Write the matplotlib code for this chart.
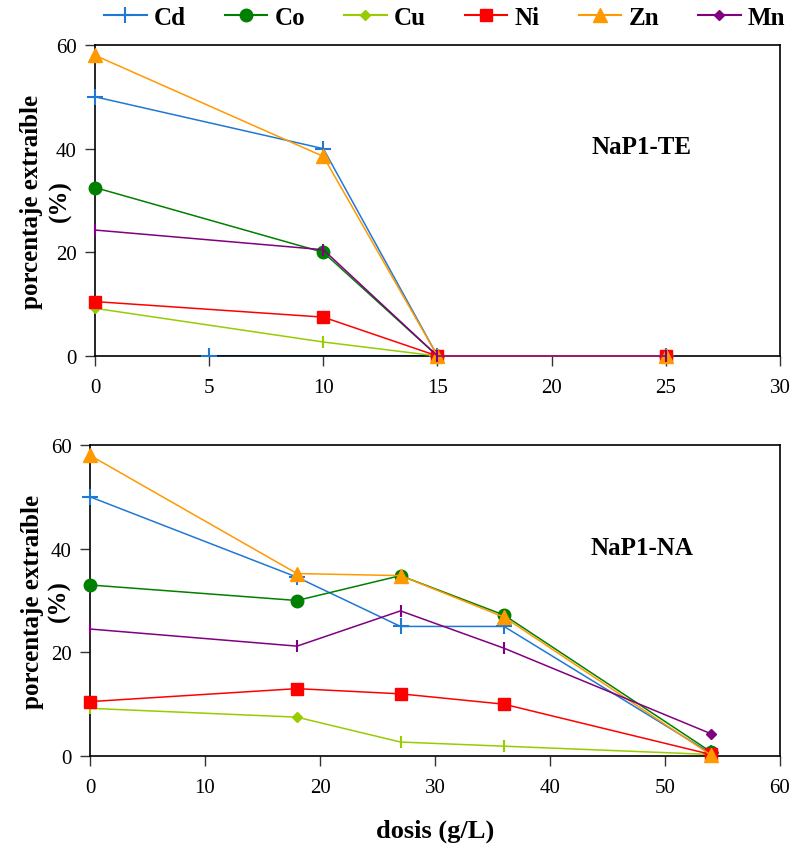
import matplotlib
matplotlib.use("Agg")
import matplotlib.pyplot as plt
from matplotlib.lines import Line2D

plt.rcParams['font.family'] = ['Liberation Serif', 'DejaVu Serif']

# ---------------------------------------------------------------
# data
# ---------------------------------------------------------------
metals = ["Cd", "Co", "Cu", "Ni", "Zn", "Mn"]

te_dose = [0, 10, 15, 25]
te_cd = [50, 40, 0, 0]
te_co = [32.5, 20, 0, 0]
te_cu = [9.2, 2.7, 0, 0]
te_ni = [10.5, 7.5, 0, 0]
te_zn = [58, 38.5, 0, 0]
te_mn = [24.3, 20.5, 0, 0]
te_extra_x = [5, 15]      # lone blue segment on the zero line
te_extra_y = [0, 0]

na_dose = [0, 18, 27, 36, 54]
na_cd = [50, 34.5, 25, 25, 0.5]
na_co = [33, 30, 34.8, 27.2, 0.8]
na_cu = [9.2, 7.5, 2.7, 1.9, 0.3]
na_ni = [10.5, 13, 12, 10, 0.3]
na_zn = [58, 35.2, 34.8, 26.8, 0.2]
na_mn = [24.5, 21.2, 28, 20.8, 4.3]

# ---------------------------------------------------------------
# styles
# ---------------------------------------------------------------
colors = {"Cd": "#1f78d4", "Co": "#008000", "Cu": "#99cc00",
          "Ni": "#ff0000", "Zn": "#ff9900", "Mn": "#800080"}
markers = {"Cd": "+", "Co": "o", "Cu": "D", "Ni": "s", "Zn": "^", "Mn": "D"}
msizes = {"Cd": 12, "Co": 9, "Cu": 5, "Ni": 8, "Zn": 10, "Mn": 5}


def draw_series(ax, x, y, name, main_idx=None):
    c = colors[name]
    if main_idx is None:
        main_idx = list(range(len(x)))
    ax.plot(x, y, color=c, lw=1.1, marker=markers[name], ms=msizes[name],
            mew=1.5 if name == "Cd" else 1, markevery=main_idx, clip_on=False, zorder=3)
    rest = [i for i in range(len(x)) if i not in main_idx]
    if rest:
        ax.plot([x[i] for i in rest], [y[i] for i in rest], ls="none", marker="|",
                ms=9, mew=1.5, color=c, clip_on=False, zorder=3)


def style_axes(ax, xmax, xstep, label, lab1_x, lab2_x):
    ax.set_xlim(0, xmax)
    ax.set_ylim(0, 60)
    ax.set_xticks(range(0, xmax + 1, xstep))
    ax.set_yticks([0, 20, 40, 60])
    ax.tick_params(direction="out", length=7, width=1, labelsize=15, pad=9,
                   color="#333333")
    ax.tick_params(axis="y", pad=6)
    for sp in ax.spines.values():
        sp.set_linewidth(1.2)
    # two-line y label, drawn as two texts so they sit tight to the ticks
    ax.text(lab1_x, 0.5, "porcentaje extraíble", transform=ax.transAxes,
            rotation=90, fontsize=18, fontweight="bold", ha="center", va="center")
    ax.text(lab2_x, 0.5, "(%)", transform=ax.transAxes,
            rotation=90, fontsize=18, fontweight="bold", ha="center", va="center")
    ax.text(0.725, 0.672, label, transform=ax.transAxes, fontsize=18,
            fontweight="bold", ha="left", va="center")


fig = plt.figure(figsize=(7.93, 8.45), dpi=100)
ax1 = fig.add_axes([0.1198, 0.5775, 0.8638, 0.3681])
ax2 = fig.add_axes([0.1135, 0.1041, 0.8701, 0.3681])

# top panel: NaP1-TE
ax1.plot(te_extra_x, te_extra_y, color=colors["Cd"], lw=2.2, zorder=2.5)
ax1.plot(te_extra_x[:1], te_extra_y[:1], ls="none", marker="+", ms=12, mew=1.5,
         color=colors["Cd"], zorder=3)
draw_series(ax1, te_dose, te_cd, "Cd")
draw_series(ax1, te_dose, te_co, "Co")
draw_series(ax1, te_dose, te_cu, "Cu", main_idx=[0])
draw_series(ax1, te_dose, te_ni, "Ni")
draw_series(ax1, te_dose, te_zn, "Zn")
draw_series(ax1, te_dose, te_mn, "Mn", main_idx=[])
style_axes(ax1, 30, 5, "NaP1-TE", -0.092, -0.051)

# bottom panel: NaP1-NA
draw_series(ax2, na_dose, na_cd, "Cd")
draw_series(ax2, na_dose, na_co, "Co")
draw_series(ax2, na_dose, na_cu, "Cu", main_idx=[1])
draw_series(ax2, na_dose, na_ni, "Ni")
draw_series(ax2, na_dose, na_zn, "Zn")
draw_series(ax2, na_dose, na_mn, "Mn", main_idx=[4])
style_axes(ax2, 60, 10, "NaP1-NA", -0.084, -0.044)
ax2.set_xlabel("dosis (g/L)", fontsize=19, fontweight="bold", labelpad=15)

# legend across the top
handles = [Line2D([], [], color=colors[m], lw=1.5, marker=markers[m],
                  ms=msizes[m], mew=1.5 if m == "Cd" else 1) for m in metals]
fig.legend(handles, metals, loc="center", bbox_to_anchor=(0.561, 0.978), ncol=6,
           frameon=False, prop={"size": 18, "weight": "bold"},
           handlelength=1.7, handletextpad=0.3, columnspacing=1.55)

fig.savefig("out.png", dpi=100)
